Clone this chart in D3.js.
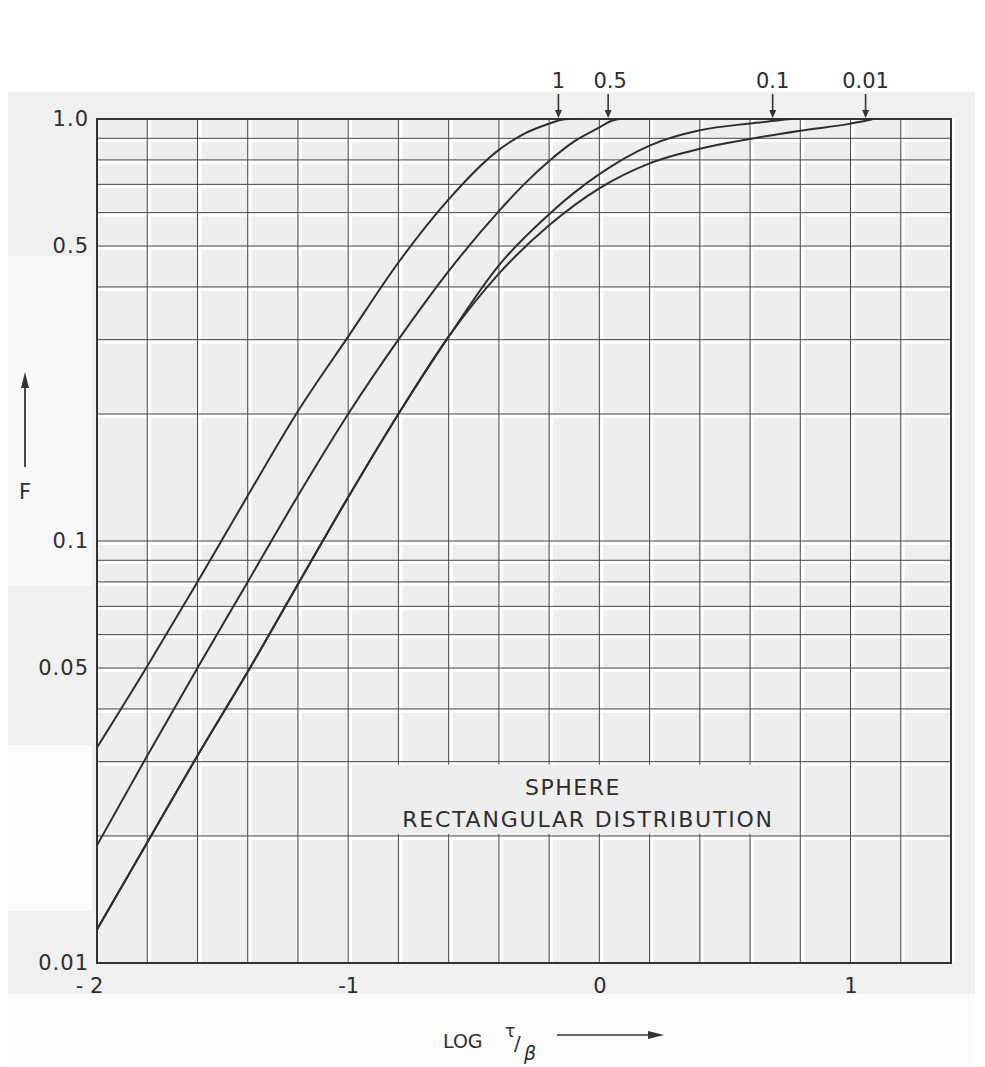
<!DOCTYPE html>
<html>
<head>
<meta charset="utf-8">
<script src="https://cdn.jsdelivr.net/npm/d3@7"></script>
<style>
  html, body { margin: 0; padding: 0; background: #ffffff; }
  svg { display: block; }
  text { font-family: "DejaVu Sans", sans-serif; fill: #2e2e2e; }
</style>
</head>
<body>
<div id="chart"></div>
<script>
// ---------- data ----------
const seriesNames = ["1", "0.5", "0.1", "0.01"];

const xCurve1 = [-2.0, -1.8, -1.6, -1.4, -1.2, -1.0, -0.8, -0.6, -0.4, -0.3, -0.2, -0.16, -0.12, -0.08];
const fCurve1 = [0.0324, 0.0505, 0.080, 0.128, 0.203, 0.305, 0.457, 0.645, 0.845, 0.922, 0.975, 0.993, 1.0, 1.0];

const xCurve2 = [-2.0, -1.8, -1.6, -1.4, -1.2, -1.0, -0.8, -0.6, -0.4, -0.3, -0.2, -0.1, 0.0, 0.04, 0.08, 0.18];
const fCurve2 = [0.019, 0.031, 0.05, 0.08, 0.128, 0.2, 0.3, 0.436, 0.605, 0.70, 0.795, 0.885, 0.955, 0.985, 1.0, 1.0];

const xCurve3 = [-2.0, -1.8, -1.6, -1.4, -1.2, -1.0, -0.8, -0.6, -0.4, -0.2, 0.0, 0.2, 0.4, 0.6, 0.7, 0.77, 0.8];
const fCurve3 = [0.012, 0.0193, 0.031, 0.049, 0.079, 0.127, 0.2, 0.305, 0.45, 0.595, 0.74, 0.865, 0.94, 0.976, 0.99, 1.0, 1.0];

const xCurve4 = [-2.0, -1.8, -1.6, -1.4, -1.2, -1.0, -0.8, -0.6, -0.4, -0.2, 0.0, 0.2, 0.4, 0.6, 0.8, 1.0, 1.06, 1.09];
const fCurve4 = [0.012, 0.0193, 0.031, 0.049, 0.079, 0.127, 0.2, 0.305, 0.43, 0.56, 0.685, 0.785, 0.85, 0.897, 0.938, 0.975, 0.99, 1.0];

// where each curve is marked by an arrow at the top (log tau/beta)
const arrowX = [-0.163, 0.035, 0.69, 1.06];

const xTickValues = [-2, -1, 0, 1];
const xTickLabels = ["- 2", "-1", "0", "1"];
const yTickValues = [1, 0.5, 0.1, 0.05, 0.01];
const yTickLabels = ["1.0", "0.5", "0.1", "0.05", "0.01"];

const titleLine1 = "SPHERE";
const titleLine2 = "RECTANGULAR DISTRIBUTION";

// ---------- setup ----------
const W = 985, H = 1067;
const svg = d3.select("#chart").append("svg").attr("width", W).attr("height", H);

const x = d3.scaleLinear().domain([-2, 1.4]).range([97, 951]);
const y = d3.scaleLog().domain([0.01, 1]).range([963, 119]);

// scan-like background tones
svg.append("rect").attr("x", 8).attr("y", 92).attr("width", 967).attr("height", 902).attr("fill", "#f0f0f0");
svg.append("rect").attr("x", 8).attr("y", 256).attr("width", 84).attr("height", 330).attr("fill", "#f8f8f8");
svg.append("rect").attr("x", 8).attr("y", 745).attr("width", 84).attr("height", 166).attr("fill", "#fbfbfb");
svg.append("rect").attr("x", 8).attr("y", 994).attr("width", 967).attr("height", 73).attr("fill", "#fbfbfb");

// plot area
svg.append("rect").attr("x", x(-2)).attr("y", y(1)).attr("width", x(1.4) - x(-2)).attr("height", y(0.01) - y(1))
  .attr("fill", "#eeeeee");

// grid values
const xGrid = d3.range(0, 18).map(i => -2 + i * 0.2);
const yGrid = [];
[0.01, 0.1].forEach(dec => { for (let k = 1; k <= 9; k++) yGrid.push(+(dec * k).toFixed(4)); });
yGrid.push(1);

const grid = svg.append("g");
// white halos (scan look)
grid.selectAll("line.vh").data(xGrid.slice(1)).join("line")
  .attr("x1", d => x(d) + 2.5).attr("x2", d => x(d) + 2.5)
  .attr("y1", y(1)).attr("y2", y(0.01))
  .attr("stroke", "#ffffff").attr("stroke-width", 3);
grid.selectAll("line.hh").data(yGrid.slice(1, -1)).join("line")
  .attr("x1", x(-2)).attr("x2", x(1.4))
  .attr("y1", d => y(d) + 2.5).attr("y2", d => y(d) + 2.5)
  .attr("stroke", "#ffffff").attr("stroke-width", 3);
// dark grid lines
grid.selectAll("line.v").data(xGrid).join("line")
  .attr("x1", d => x(d)).attr("x2", d => x(d))
  .attr("y1", y(1)).attr("y2", y(0.01))
  .attr("stroke", "#4a4a4a").attr("stroke-width", 1);
grid.selectAll("line.h").data(yGrid).join("line")
  .attr("x1", x(-2)).attr("x2", x(1.4))
  .attr("y1", d => y(d)).attr("y2", d => y(d))
  .attr("stroke", "#4a4a4a").attr("stroke-width", 1);

// label box (grid interrupted)
svg.append("rect")
  .attr("x", x(-0.985)).attr("y", y(0.03) + 3)
  .attr("width", x(0.785) - x(-0.985)).attr("height", y(0.02) - y(0.03) - 5)
  .attr("fill", "#eeeeee");

// plot frame
svg.append("rect").attr("x", x(-2)).attr("y", y(1)).attr("width", x(1.4) - x(-2)).attr("height", y(0.01) - y(1))
  .attr("fill", "none").attr("stroke", "#333").attr("stroke-width", 2);

// curves
const curves = [
  { name: seriesNames[0], xs: xCurve1, fs: fCurve1 },
  { name: seriesNames[1], xs: xCurve2, fs: fCurve2 },
  { name: seriesNames[2], xs: xCurve3, fs: fCurve3 },
  { name: seriesNames[3], xs: xCurve4, fs: fCurve4 }
];
const line = d3.line().x(d => x(d[0])).y(d => y(d[1])).curve(d3.curveMonotoneX);
svg.append("g").selectAll("path").data(curves).join("path")
  .attr("d", c => line(c.xs.map((v, i) => [v, c.fs[i]])))
  .attr("fill", "none").attr("stroke", "#2e2e2e").attr("stroke-width", 2);

// top arrows and labels
const ta = svg.append("g");
arrowX.forEach((ax, i) => {
  const px = x(ax);
  ta.append("line").attr("x1", px).attr("x2", px).attr("y1", 94).attr("y2", y(1) - 6)
    .attr("stroke", "#333").attr("stroke-width", 1.6);
  ta.append("path").attr("d", `M${px - 3.5},${y(1) - 9} L${px + 3.5},${y(1) - 9} L${px},${y(1) - 1} Z`)
    .attr("fill", "#333");
  ta.append("text").attr("x", px + (i === 1 ? 2 : 0)).attr("y", 88).attr("text-anchor", "middle")
    .attr("font-size", 21).text(seriesNames[i]);
});

// y axis labels
const yAxis = d3.axisLeft(y).tickValues(yTickValues).tickFormat((d, i) => yTickLabels[i]).tickSize(0).tickPadding(8);
const gy = svg.append("g").attr("transform", `translate(${x(-2)},0)`).call(yAxis);
gy.select(".domain").remove();
gy.selectAll("text").attr("font-size", 21).attr("fill", "#2e2e2e")
  .attr("font-family", "DejaVu Sans, sans-serif").attr("letter-spacing", 1);

// x axis labels
const xAxis = d3.axisBottom(x).tickValues(xTickValues).tickFormat((d, i) => xTickLabels[i]).tickSize(0).tickPadding(15);
const gx = svg.append("g").attr("transform", `translate(0,${y(0.01)})`).call(xAxis);
gx.select(".domain").remove();
gx.selectAll("text").attr("font-size", 21).attr("fill", "#2e2e2e")
  .attr("font-family", "DejaVu Sans, sans-serif");
gx.selectAll(".tick").filter(d => d === -2).select("text").attr("dx", -8);

// in-chart title
svg.append("text").attr("x", 573).attr("y", 795).attr("text-anchor", "middle")
  .attr("font-size", 22).attr("letter-spacing", 1.5).text(titleLine1);
svg.append("text").attr("x", 588).attr("y", 827).attr("text-anchor", "middle")
  .attr("font-size", 22).attr("letter-spacing", 1.8).text(titleLine2);

// y axis title with arrow
svg.append("line").attr("x1", 25).attr("x2", 25).attr("y1", 467).attr("y2", 382)
  .attr("stroke", "#333").attr("stroke-width", 1.8);
svg.append("path").attr("d", "M21,388 L29,388 L25,372 Z").attr("fill", "#333");
svg.append("text").attr("x", 25).attr("y", 499).attr("text-anchor", "middle").attr("font-size", 21).text("F");

// x axis title
svg.append("text").attr("x", 443).attr("y", 1048).attr("font-size", 19).text("LOG");
svg.append("text").attr("x", 505).attr("y", 1037).attr("font-size", 17).text("τ");
svg.append("text").attr("x", 514).attr("y", 1050).attr("font-size", 20).text("/");
svg.append("text").attr("x", 524).attr("y", 1060).attr("font-size", 19).attr("font-style", "italic").text("β");
svg.append("line").attr("x1", 557).attr("x2", 652).attr("y1", 1035).attr("y2", 1035)
  .attr("stroke", "#333").attr("stroke-width", 1.6);
svg.append("path").attr("d", "M648,1031 L648,1039 L664,1035 Z").attr("fill", "#333");
</script>
</body>
</html>
